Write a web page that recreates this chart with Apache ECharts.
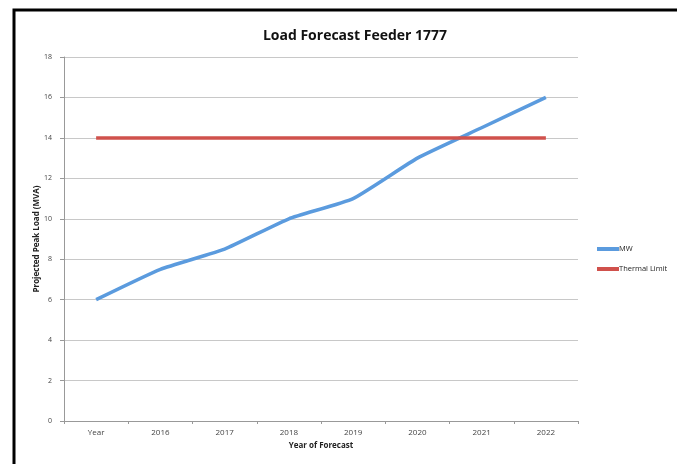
<!DOCTYPE html>
<html>
<head>
<meta charset="utf-8">
<script src="https://cdn.jsdelivr.net/npm/echarts@6/dist/echarts.min.js"></script>
<style>
  html, body { margin: 0; padding: 0; background: #fff; overflow: hidden; }
  #chart { width: 677px; height: 464px; }
</style>
</head>
<body>
<div id="chart"></div>
<script>
const categories = ['Year', '2016', '2017', '2018', '2019', '2020', '2021', '2022']
const mwValues = [6, 7.5, 8.5, 10, 11, 13, 14.5, 16]
const thermalLimit = [14, 14, 14, 14, 14, 14, 14, 14]

const font = 'Open Sans'
const myChart = echarts.init(document.getElementById('chart'))

myChart.setOption({
    animation: false,
    title: {
        text: 'Load Forecast Feeder 1777',
        left: 350,
        top: 24,
        textAlign: 'center',
        textStyle: { fontFamily: font, fontSize: 14, fontWeight: 'bold', color: '#111' }
    },
    legend: {
        orient: 'vertical',
        left: 592,
        top: 240,
        itemWidth: 22,
        itemHeight: 4,
        itemGap: 12,
        icon: 'rect',
        textStyle: { fontFamily: font, fontSize: 7.5, color: '#222', padding: [0, 0, 0, -5] },
        data: ['MW', 'Thermal Limit']
    },
    graphic: [
        {
            type: 'polyline',
            shape: { points: [[14, 470], [14, 10], [690, 10]] },
            style: { stroke: '#000', lineWidth: 3, fill: null }
        }
    ],
    grid: { left: 64, right: 99, top: 57, bottom: 43 },
    xAxis: {
        type: 'category',
        data: categories,
        boundaryGap: true,
        name: 'Year of Forecast',
        nameLocation: 'middle',
        nameGap: 16,
        nameTextStyle: { fontFamily: font, fontSize: 8, fontWeight: 'bold', color: '#222' },
        axisLine: { lineStyle: { color: '#999' } },
        axisTick: { show: true, length: 3, lineStyle: { color: '#999' } },
        axisLabel: { fontFamily: font, fontSize: 8, color: '#444', margin: 8 }
    },
    yAxis: {
        type: 'value',
        min: 0,
        max: 18,
        interval: 2,
        name: 'Projected Peak Load (MVA)',
        nameLocation: 'middle',
        nameGap: 23,
        nameMoveOverlap: false,
        nameTextStyle: { fontFamily: font, fontSize: 8, fontWeight: 'bold', color: '#222' },
        axisLine: { show: true, lineStyle: { color: '#999' } },
        axisTick: { show: true, length: 4, lineStyle: { color: '#999' } },
        axisLabel: { fontFamily: font, fontSize: 7, color: '#444', margin: 12 },
        splitLine: { lineStyle: { color: '#c8c8c8' } }
    },
    series: [
        {
            name: 'MW',
            type: 'line',
            data: mwValues,
            symbol: 'none',
            smooth: 0.15,
            lineStyle: { width: 3.5, color: '#5b9bde' },
            itemStyle: { color: '#5b9bde' }
        },
        {
            name: 'Thermal Limit',
            type: 'line',
            data: thermalLimit,
            symbol: 'none',
            lineStyle: { width: 3.5, color: '#d0514c' },
            itemStyle: { color: '#d0514c' }
        }
    ]
})
</script>
</body>
</html>
